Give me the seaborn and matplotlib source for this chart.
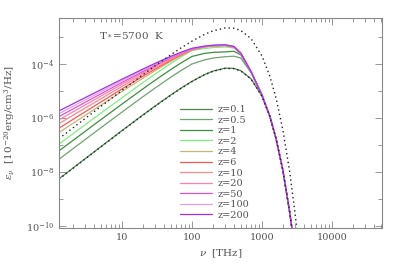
import numpy as np
import pandas as pd
import matplotlib
matplotlib.use("Agg")
import matplotlib.pyplot as plt
import seaborn as sns
from matplotlib.ticker import LogLocator, FixedLocator, NullFormatter, FixedFormatter

# frequency grid [THz] and log10(eps)
nu = [1.25, 2, 3, 5, 10, 20, 30, 50, 70, 100, 150, 200, 300, 400, 500, 700,
      1000, 1300, 1600, 2000, 2500, 2700]
nu_bb = [1.25, 2, 3, 5, 10, 20, 30, 50, 70, 100, 150, 200, 300, 400, 500, 700,
         1000, 1300, 1600, 2000, 2500, 3000, 3200]

log_bb = [-6.767, -6.361, -6.011, -5.571, -4.978, -4.394, -4.061, -3.656, -3.403,
          -3.155, -2.910, -2.773, -2.664, -2.675, -2.759, -3.058, -3.691, -4.447,
          -5.273, -6.445, -7.982, -9.573, -10.22]
log_dil = [-8.265, -7.859, -7.509, -7.069, -6.476, -5.892, -5.559, -5.154, -4.901,
           -4.653, -4.408, -4.271, -4.162, -4.173, -4.257, -4.556, -5.189, -5.945,
           -6.771, -7.943, -9.480, -10.11]

z_labels = ["z=0.1", "z=0.5", "z=1", "z=2", "z=4", "z=6", "z=10", "z=20",
            "z=50", "z=100", "z=200"]
z_colors = ["#4f824f", "#6fa36f", "#3c8f3c", "#7cf07c", "#c8b47a", "#ff5555",
            "#ff8890", "#ff80aa", "#e353c4", "#dfa0f0", "#a22ff0"]

tail = [-5.140, -5.930, -6.770, -7.940, -9.480, -10.11]
log_z0p1 = [-8.255, -7.849, -7.499, -7.059, -6.466, -5.882, -5.549, -5.144, -4.891,
            -4.643, -4.398, -4.261, -4.152, -4.163, -4.247, -4.546, -5.180, -5.940,
            -6.770, -7.943, -9.480, -10.11]
log_z0p5 = [-7.530, -7.133, -6.790, -6.360, -5.780, -5.209, -4.883, -4.488, -4.241,
            -4.000, -3.850, -3.780, -3.730, -3.710, -3.780, -4.320, -5.150, -5.940,
            -6.770, -7.940, -9.480, -10.11]
log_z1 = [-7.220, -6.826, -6.486, -6.059, -5.484, -4.918, -4.595, -4.203, -3.959,
          -3.720, -3.610, -3.570, -3.550, -3.530, -3.660, -4.290] + tail
log_z2 = [-6.970, -6.579, -6.242, -5.819, -5.248, -4.687, -4.367, -3.979, -3.736,
          -3.500, -3.430, -3.390, -3.370, -3.410, -3.620, -4.280] + tail
log_z4 = [-6.540, -6.194, -5.896, -5.522, -5.018, -4.523, -4.241, -3.902, -3.692,
          -3.490, -3.375, -3.340, -3.320, -3.380, -3.605, -4.280] + tail
log_z6 = [-6.380, -6.049, -5.764, -5.406, -4.924, -4.451, -4.183, -3.860, -3.660,
          -3.470, -3.365, -3.330, -3.315, -3.375, -3.605, -4.280] + tail
log_z10 = [-6.210, -5.896, -5.626, -5.286, -4.830, -4.383, -4.129, -3.825, -3.637,
           -3.460, -3.360, -3.325, -3.310, -3.370, -3.600, -4.280] + tail
log_z20 = [-6.070, -5.770, -5.512, -5.187, -4.752, -4.325, -4.083, -3.794, -3.617,
           -3.450, -3.355, -3.320, -3.305, -3.365, -3.600, -4.280] + tail
log_z50 = [-5.950, -5.662, -5.414, -5.102, -4.684, -4.275, -4.043, -3.767, -3.598,
           -3.440, -3.350, -3.315, -3.300, -3.360, -3.600, -4.280] + tail
log_z100 = [-5.840, -5.563, -5.324, -5.024, -4.621, -4.228, -4.005, -3.741, -3.579,
            -3.430, -3.345, -3.310, -3.295, -3.355, -3.600, -4.280] + tail
log_z200 = [-5.740, -5.472, -5.242, -4.952, -4.564, -4.185, -3.971, -3.717, -3.562,
            -3.420, -3.340, -3.305, -3.290, -3.350, -3.600, -4.280] + tail

z_series = [log_z0p1, log_z0p5, log_z1, log_z2, log_z4, log_z6, log_z10, log_z20,
            log_z50, log_z100, log_z200]

# long table for seaborn
rows = []
for lab, vals in zip(z_labels, z_series):
    for n, v in zip(nu, vals):
        rows.append({"nu": n, "eps": 10.0 ** v, "z": lab})
df = pd.DataFrame(rows)
df_bb = pd.DataFrame({"nu": nu_bb, "eps": 10.0 ** np.array(log_bb)})
df_dil = pd.DataFrame({"nu": nu, "eps": 10.0 ** np.array(log_dil)})

sns.set_style("ticks")
plt.rcParams["font.family"] = ["DejaVu Serif"]
plt.rcParams["mathtext.fontset"] = "dejavuserif"
grey = "#555555"
plt.rcParams.update({"text.color": grey, "axes.labelcolor": grey,
                     "xtick.color": grey, "ytick.color": grey,
                     "axes.edgecolor": "#888888"})

fig = plt.figure(figsize=(3.99, 2.66), dpi=100)
ax = fig.add_axes([0.148, 0.143, 0.809, 0.789])

sns.lineplot(data=df, x="nu", y="eps", hue="z", hue_order=z_labels,
             palette=z_colors, estimator=None, sort=False, lw=0.9, ax=ax)
sns.lineplot(data=df_bb, x="nu", y="eps", color="#222222", ls=(0, (1, 2.2)),
             lw=1.0, estimator=None, sort=False, ax=ax)
sns.lineplot(data=df_dil, x="nu", y="eps", color="#222222", ls=(0, (1, 2.2)),
             lw=1.0, estimator=None, sort=False, ax=ax)

ax.set_xscale("log")
ax.set_yscale("log")
ax.set_xlim(1.26, 5.2e4)
ax.set_ylim(10 ** -10.07, 10 ** -2.30)

ax.xaxis.set_major_locator(FixedLocator([10, 100, 1000, 10000]))
ax.xaxis.set_major_formatter(FixedFormatter(["10", "100", "1000", "10000"]))
ax.xaxis.set_minor_locator(LogLocator(base=10, subs=np.arange(2, 10), numticks=20))
ax.xaxis.set_minor_formatter(NullFormatter())
ax.yaxis.set_major_locator(FixedLocator([1e-10, 1e-8, 1e-6, 1e-4]))
ax.yaxis.set_major_formatter(FixedFormatter([r"$10^{-10}$", r"$10^{-8}$",
                                             r"$10^{-6}$", r"$10^{-4}$"]))
ax.yaxis.set_minor_locator(FixedLocator([1e-9, 1e-7, 1e-5, 1e-3]))
ax.yaxis.set_minor_formatter(NullFormatter())
ax.tick_params(which="both", direction="in", top=True, right=True,
               labelsize=7, width=0.6, color="#888888")
ax.tick_params(which="major", length=5)
ax.tick_params(which="minor", length=3)
for s in ax.spines.values():
    s.set_linewidth(0.8)

ax.set_xlabel(r"$\nu$  [THz]", fontsize=7.5)
ax.set_ylabel(r"$\epsilon_\nu$  [10$^{-20}$erg/cm$^3$/Hz]", fontsize=7.5, labelpad=6)
ax.text(4.7, 10 ** -2.93, r"T$_*$=5700  K", fontsize=7.5, va="center", ha="left")

handles, labels = ax.get_legend_handles_labels()
ax.legend(handles[:11], labels[:11], loc="upper left", bbox_to_anchor=(0.375, 0.585),
          frameon=False, fontsize=7, handlelength=3.3, handletextpad=0.6,
          labelspacing=0.16, borderpad=0, borderaxespad=0)

fig.savefig("out.png", dpi=100)
